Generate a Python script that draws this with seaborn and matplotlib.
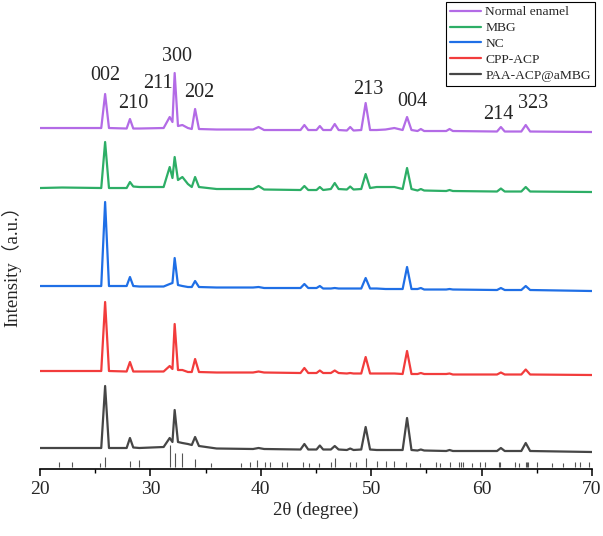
import numpy as np
import pandas as pd
import matplotlib.pyplot as plt
import seaborn as sns
from matplotlib.lines import Line2D
from matplotlib.ticker import MultipleLocator

sns.set_style("ticks")
plt.rcParams['font.family'] = ['Liberation Serif', 'Noto Sans CJK SC']

# 2theta points (baseline feet and peak tops)
two_theta = [20.0, 22.0, 25.55, 25.9, 26.25, 27.85, 28.15, 28.45, 29.0, 31.2,
             31.75, 32.0, 32.2, 32.5, 32.9, 33.4, 33.75, 34.05, 34.4, 36.0,
             39.3, 39.8, 40.3, 43.6, 43.95, 44.3, 45.05, 45.35, 45.65, 46.35,
             46.7, 47.05, 47.8, 48.1, 48.4, 49.1, 49.5, 49.9, 50.5, 51.3,
             52.1, 52.85, 53.25, 53.65, 54.2, 54.5, 54.8, 56.8, 57.1, 57.4,
             61.4, 61.75, 62.1, 63.6, 64.0, 64.4, 70.0]

# intensity above each sample's own baseline (a.u.)
normal_enamel = [0, 0, 0, 34, 0, -0.5, 9, -0.5, -0.5, 0,
                 11, 6, 55, 2, 3, 0, -1, 19, -1, -1.5,
                 -1.5, 1, -2, -2, 3, -2, -2, 2, -2, -2,
                 4, -2, -2.5, 1, -2.5, -2, 25, -2, -2, -1.5,
                 0, -2, 11, -2, -3, -1, -3, -3, -1, -3,
                 -3.5, 1, -3.5, -3.5, 3, -3.5, -4]
mbg = [0, 0.5, 0, 46, 0, 0, 6, 1.5, 1, 1,
       21, 10, 31, 8, 11, 4, 1, 11, 1, -1,
       -1, 2, -1.5, -2, 2, -2, -2, 1, -2, -1,
       5, -1, -1.5, 1.5, -1.5, -1, 14, 0, 1, 1,
       1, -1, 20, -1, -2.5, -1, -2.5, -3, -2, -3,
       -3.5, -0.5, -3.5, -3.5, 1, -3.5, -4]
nc = [0, 0, 0, 84, 0, 0, 9, 0, -0.5, -0.5,
      2, 3, 28, 1, 0, -1, -1, 5, -1, -1.5,
      -1.5, -1, -2, -2, 2, -2, -2, 0, -2.5, -2.5,
      -2, -2.5, -2.5, -2.5, -2.5, -2.5, 8, -2.5, -2.5, -3,
      -3, -3, 19, -3, -3, -2, -3.5, -3.5, -3, -3.5,
      -4, -2, -4, -4, 0, -4, -5]
cpp_acp = [0, 0, 0, 69, 0, -0.5, 9, -0.5, -0.5, -0.5,
           5, 2, 47, 1, 1, -1, -1, 12, -1, -1.5,
           -1.5, -0.5, -1.5, -2, 3, -2, -2, 0.5, -2, -2,
           0.5, -2, -2.5, -2, -2.5, -2.5, 14, -2.5, -2.5, -2.5,
           -2.5, -3, 20, -3, -3, -2, -3, -3, -2.5, -3.5,
           -3.5, -1.5, -3.5, -3.5, 1.5, -3.5, -4]
paa_acp_ambg = [0, 0, 0, 62, 0, 0, 10, 0.5, 0, 1,
                10, 6, 38, 6, 5, 4, 3, 11, 2, -0.5,
                -1, 0, -1, -1.5, 4, -1.5, -1.5, 2.5, -1.5, -1.5,
                2, -1.5, -2, -0.5, -2, -1.5, 21, -1.5, -2, -2,
                -2, -2, 30, -2, -2.5, -1.5, -2.5, -3, -2, -3,
                -3, 0, -3, -3, 5, -3, -4]

samples = ['Normal enamel', 'MBG', 'NC', 'CPP-ACP', 'PAA-ACP@aMBG']
series = [normal_enamel, mbg, nc, cpp_acp, paa_acp_ambg]
offsets = [341, 281, 183, 98, 21]
colors = ['#B36BE6', '#2DAE66', '#1F6FE6', '#F23C3C', '#464646']

# standard card (hydroxyapatite) stick pattern
stick_pos = [21.7, 22.9, 25.4, 25.9, 28.15, 28.95, 31.75, 32.2, 32.9, 34.05,
             35.5, 38.2, 39.0, 39.7, 40.4, 40.8, 41.95, 42.35, 43.85, 44.4,
             45.3, 46.35, 46.7, 48.1, 48.6, 49.5, 50.5, 51.3, 52.1, 53.2,
             54.4, 55.9, 56.25, 57.1, 58.0, 58.15, 58.3, 59.1, 59.9, 60.3,
             61.6, 61.7, 63.05, 63.4, 64.0, 64.1, 64.2, 65.0, 66.4, 67.4,
             68.5, 68.9, 69.7]
stick_h = [5, 5, 4, 9.4, 6, 6.7, 21.7, 14, 14, 7.7,
           4, 3.3, 5, 6.7, 5, 4.4, 5, 4.4, 4.4, 3.3,
           4, 5, 8.4, 5, 4.4, 8.4, 5.7, 5.7, 5.7, 5,
           4, 4.4, 4, 4.6, 4.4, 4.4, 4.4, 4, 4.4, 4.4,
           4.4, 4.4, 4.4, 4, 5, 5, 5, 4.4, 4, 4,
           4.4, 4.4, 4.4]

peak_labels = ['002', '210', '211', '300', '202', '213', '004', '214', '323']
peak_x = [25.95, 28.45, 30.7, 32.4, 34.4, 49.7, 53.7, 61.5, 64.7]
peak_y = [394, 366, 386, 413, 377, 380, 368, 355, 366]

frames = []
for name, vals, off in zip(samples, series, offsets):
    frames.append(pd.DataFrame({'two_theta': two_theta,
                                'intensity': np.array(vals) + off,
                                'sample': name}))
df = pd.concat(frames, ignore_index=True)

fig = plt.figure(figsize=(6.03, 5.36), dpi=100)
ax = fig.add_axes([0.0663, 0.125, 0.9154, 0.8563])

sns.lineplot(data=df, x='two_theta', y='intensity', hue='sample',
             hue_order=samples, palette=dict(zip(samples, colors)),
             estimator=None, linewidth=1.6, legend=False, ax=ax)

ax.vlines(stick_pos, 2.3, [2.3 + h for h in stick_h], color='#555555', linewidth=0.8)

for lab, x, y in zip(peak_labels, peak_x, peak_y):
    ax.text(x, y, lab, ha='center', va='center', fontsize=14.5)

ax.set_xlim(20, 70)
ax.set_ylim(0, 459)
ax.set_yticks([])
for side in ['left', 'top', 'right']:
    ax.spines[side].set_visible(False)
ax.spines['bottom'].set_linewidth(1.2)
ax.spines['bottom'].set_color('black')
ax.xaxis.set_major_locator(MultipleLocator(10))
ax.xaxis.set_minor_locator(MultipleLocator(5))
ax.tick_params(axis='x', which='major', bottom=True, direction='out',
               length=5, width=1.1, labelsize=14, color='black')
ax.tick_params(axis='x', which='minor', bottom=True, direction='out',
               length=3, width=1.0, color='black')
ax.set_xlabel('2θ (degree)', fontsize=13.5, labelpad=3)
ax.set_ylabel('')
fig.text(11 / 603, 1 - 262 / 536, 'Intensity（a.u.）', rotation=90,
         ha='center', va='center', fontsize=13.5)

handles = [Line2D([0], [0], color=c, lw=1.6) for c in colors]
leg = fig.legend(handles, samples, loc='upper right',
                 bbox_to_anchor=(595 / 603, 1 - 2 / 536),
                 frameon=True, fancybox=False, fontsize=9.7,
                 handlelength=2.3, handletextpad=0.3, labelspacing=0.25,
                 borderpad=0.3, borderaxespad=0)
leg.get_frame().set_edgecolor('black')
leg.get_frame().set_linewidth(0.8)
leg.get_frame().set_alpha(1)

fig.savefig('out.png', dpi=100)
